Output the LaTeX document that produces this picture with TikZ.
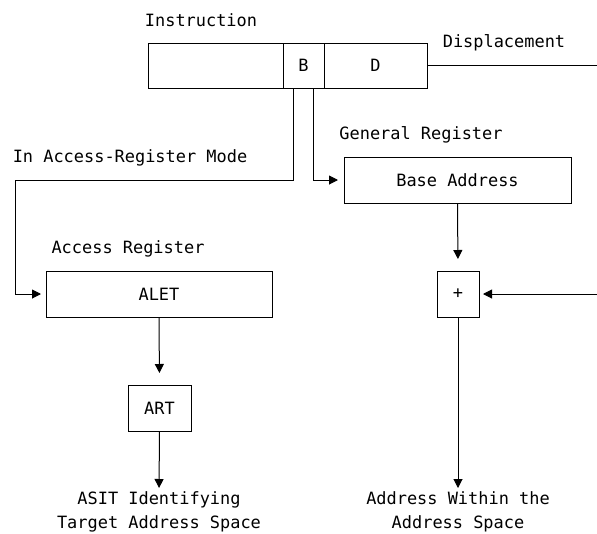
\documentclass[tikz,border=0pt]{standalone}
\usepackage{fontspec}
\setmonofont{DejaVu Sans Mono}
\usetikzlibrary{arrows.meta,calc}
\begin{document}
\begin{tikzpicture}[x=0.75pt,y=-0.75pt,
  every node/.style={font=\fontsize{12.7}{18}\selectfont\ttfamily},
  box/.style={draw,line width=0.75pt,inner sep=0pt,outer sep=0pt,minimum height=34.5pt},
  lbl/.style={inner sep=0pt},
  conn/.style={line width=0.75pt},
  arr/.style={conn,-{Triangle[length=6.75pt,width=6.75pt]}}]
\useasboundingbox (0,0) rectangle (597,533);
% instruction
\node[lbl] (instr) at (201,20) {Instruction};
\node[box,minimum width=101.25pt,minimum height=33.75pt] (f1) at (215.5,65.5) {};
\node[box,minimum width=30.75pt,minimum height=33.75pt] (B) at (303.5,65.5) {B};
\node[box,minimum width=77.25pt,minimum height=33.75pt] (D) at (375.5,65.5) {D};
\node[lbl] (disp) at (504,43) {Displacement};
\coordinate (dispEnd) at (597,65.5);
\draw[conn] (D.east) -- (dispEnd);
% labels
\node[lbl] (arm) at (130,158) {In Access-Register Mode};
\node[lbl] (gr) at (421,135) {General Register};
\node[lbl] (ar) at (128,249) {Access Register};
% boxes
\node[box,minimum width=170.25pt] (base) at (457.5,180) {Base Address};
\node[box,minimum width=31.5pt] (plus) at (458,294) {+};
\node[box,minimum width=169.5pt] (alet) at (159,294) {ALET};
\node[box,minimum width=47.25pt] (art) at (159.5,408) {ART};
% results
\node[lbl,align=center,anchor=north] (asit) at (159,491) {ASIT Identifying\\Target Address Space};
\node[lbl,align=center,anchor=north] (addr) at (458,491) {Address Within the\\Address Space};
% connectors
\coordinate (cornerL) at (15,180);
\coordinate (rightIn) at (597,294);
\draw[arr,shorten >=3.75pt] ([xshift=7.5pt]B.south west) |- (cornerL) |- (alet.west);
\draw[arr,shorten >=4.5pt] ([xshift=22.5pt]B.south west) |- (base.west);
\draw[arr,shorten >=9pt] (base.south) -- (plus.north);
\draw[arr,shorten >=3pt] (rightIn) -- (plus.east);
\draw[arr,shorten >=2.25pt] (plus.south) -- (addr.north);
\draw[arr,shorten >=9pt] (alet.south) -- (art.north);
\draw[arr,shorten >=2.25pt] (art.south) -- (asit.north);
\end{tikzpicture}
\end{document}
